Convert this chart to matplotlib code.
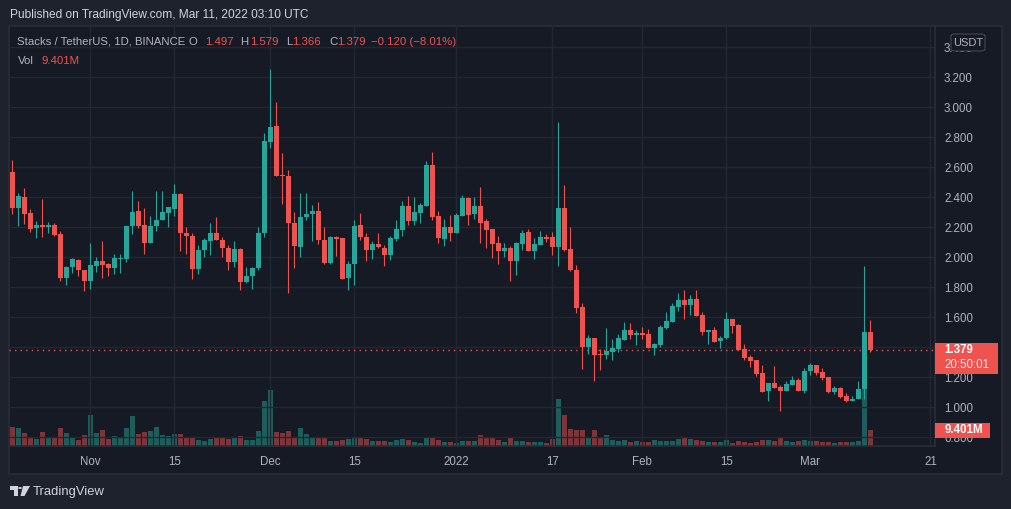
import matplotlib
matplotlib.use("Agg")
import matplotlib.pyplot as plt
import matplotlib.transforms as mtransforms
from matplotlib.patches import Rectangle, FancyBboxPatch, Polygon, Circle
import numpy as np

plt.rcParams["font.family"] = ["Liberation Sans", "DejaVu Sans"]

# -----------------------------------------------------------------------
#  STX/USDT daily candles, 19 Oct 2021 -> 11 Mar 2022 (index 0..143)
# -----------------------------------------------------------------------
opens = [
    2.569, 2.329, 2.402, 2.296, 2.191, 2.216, 2.198, 2.216, 2.156, 1.858,
    1.931, 1.982, 1.916, 1.838, 1.942, 1.976, 1.956, 1.929, 1.989, 1.989,
    2.204, 2.309, 2.216, 2.091, 2.204, 2.244, 2.296, 2.322, 2.422, 2.162,
    2.142, 1.918, 2.044, 2.109, 2.158, 2.116, 2.062, 1.964, 2.056, 1.831,
    1.871, 1.924, 2.158, 2.764, 2.876, 2.549, 2.542, 2.229, 2.064, 2.264,
    2.284, 2.309, 2.116, 1.958, 2.136, 2.129, 1.858, 1.951, 2.216, 2.136,
    2.044, 2.089, 2.062, 2.011, 2.122, 2.182, 2.342, 2.242, 2.296, 2.342,
    2.616, 2.276, 2.122, 2.202, 2.162, 2.276, 2.396, 2.289, 2.342, 2.242,
    2.189, 2.096, 2.042, 2.062, 1.976, 2.089, 2.169, 2.042, 2.082, 2.136,
    2.136, 2.069, 2.329, 2.056, 1.916, 1.669, 1.402, 1.462, 1.356, 1.349,
    1.369, 1.389, 1.449, 1.516, 1.482, 1.496, 1.489, 1.396, 1.416, 1.529,
    1.569, 1.669, 1.716, 1.682, 1.722, 1.616, 1.502, 1.516, 1.442, 1.462,
    1.589, 1.549, 1.389, 1.336, 1.316, 1.229, 1.109, 1.162, 1.136, 1.109,
    1.149, 1.182, 1.109, 1.242, 1.282, 1.236, 1.202, 1.102, 1.129, 1.076,
    1.042, 1.056, 1.118, 1.497,
]
highs = [
    2.649, 2.427, 2.462, 2.322, 2.240, 2.389, 2.236, 2.229, 2.171, 1.942,
    1.996, 1.989, 1.916, 2.096, 2.002, 2.109, 1.962, 2.022, 2.022, 2.209,
    2.442, 2.376, 2.329, 2.276, 2.442, 2.442, 2.336, 2.489, 2.429, 2.198,
    2.158, 2.082, 2.129, 2.224, 2.264, 2.131, 2.082, 2.104, 2.062, 1.931,
    1.931, 2.198, 2.829, 3.256, 3.036, 2.696, 2.582, 2.302, 2.429, 2.429,
    2.349, 2.369, 2.202, 2.142, 2.142, 2.129, 1.971, 2.249, 2.296, 2.162,
    2.109, 2.162, 2.082, 2.142, 2.249, 2.376, 2.409, 2.402, 2.362, 2.642,
    2.702, 2.309, 2.256, 2.282, 2.296, 2.416, 2.402, 2.402, 2.469, 2.256,
    2.189, 2.142, 2.096, 2.076, 2.102, 2.182, 2.189, 2.129, 2.176, 2.156,
    2.169, 2.902, 2.482, 2.202, 1.949, 1.696, 1.482, 1.462, 1.389, 1.529,
    1.456, 1.489, 1.569, 1.562, 1.516, 1.536, 1.522, 1.429, 1.549, 1.636,
    1.696, 1.762, 1.782, 1.749, 1.782, 1.636, 1.516, 1.536, 1.476, 1.636,
    1.589, 1.556, 1.422, 1.349, 1.316, 1.282, 1.162, 1.276, 1.149, 1.176,
    1.209, 1.196, 1.262, 1.296, 1.282, 1.262, 1.202, 1.142, 1.136, 1.096,
    1.076, 1.176, 1.942, 1.579,
]
lows = [
    2.289, 2.204, 2.222, 2.164, 2.124, 2.131, 2.158, 2.138, 1.838, 1.811,
    1.891, 1.871, 1.771, 1.789, 1.902, 1.862, 1.876, 1.889, 1.896, 1.969,
    2.151, 2.191, 2.018, 2.091, 2.171, 2.244, 2.198, 2.271, 2.038, 2.018,
    1.851, 1.884, 1.998, 2.011, 2.111, 1.998, 1.911, 1.931, 1.778, 1.824,
    1.784, 1.911, 2.131, 2.724, 2.538, 2.351, 1.758, 1.924, 1.998, 2.244,
    2.104, 2.084, 1.951, 1.951, 2.004, 1.851, 1.778, 1.811, 2.111, 1.971,
    1.984, 2.058, 1.938, 1.978, 2.109, 2.142, 2.216, 2.216, 2.229, 2.342,
    2.249, 2.096, 2.076, 2.109, 2.162, 2.276, 2.216, 2.256, 2.096, 2.062,
    1.996, 1.956, 2.002, 1.842, 1.882, 2.049, 2.042, 1.989, 2.082, 2.102,
    2.016, 1.942, 2.042, 1.909, 1.629, 1.256, 1.356, 1.176, 1.249, 1.322,
    1.316, 1.369, 1.449, 1.456, 1.416, 1.456, 1.396, 1.349, 1.402, 1.522,
    1.569, 1.642, 1.589, 1.616, 1.609, 1.482, 1.422, 1.436, 1.396, 1.456,
    1.496, 1.382, 1.316, 1.269, 1.209, 1.102, 1.042, 1.129, 0.976, 1.109,
    1.149, 1.109, 1.096, 1.216, 1.216, 1.182, 1.096, 1.089, 1.062, 1.036,
    1.042, 1.056, 1.056, 1.366,
]
closes = [
    2.324, 2.409, 2.284, 2.184, 2.216, 2.198, 2.216, 2.144, 1.858, 1.936,
    1.989, 1.911, 1.838, 1.949, 1.976, 1.949, 1.929, 1.996, 1.996, 2.209,
    2.302, 2.209, 2.091, 2.209, 2.249, 2.302, 2.336, 2.422, 2.158, 2.138,
    1.918, 2.049, 2.116, 2.158, 2.111, 2.058, 1.964, 2.056, 1.831, 1.876,
    1.929, 2.158, 2.776, 2.869, 2.538, 2.538, 2.224, 2.071, 2.269, 2.289,
    2.309, 2.111, 1.958, 2.136, 2.122, 1.851, 1.956, 2.209, 2.131, 2.044,
    2.089, 2.064, 2.011, 2.129, 2.189, 2.342, 2.242, 2.302, 2.349, 2.616,
    2.269, 2.129, 2.202, 2.162, 2.282, 2.396, 2.282, 2.342, 2.229, 2.182,
    2.089, 2.042, 2.062, 1.976, 2.096, 2.162, 2.042, 2.089, 2.136, 2.122,
    2.069, 2.329, 2.049, 1.916, 1.662, 1.402, 1.462, 1.349, 1.349, 1.376,
    1.396, 1.462, 1.516, 1.482, 1.496, 1.482, 1.396, 1.422, 1.536, 1.576,
    1.676, 1.716, 1.682, 1.722, 1.609, 1.502, 1.516, 1.436, 1.462, 1.589,
    1.542, 1.382, 1.329, 1.309, 1.222, 1.102, 1.162, 1.129, 1.109, 1.156,
    1.182, 1.109, 1.242, 1.282, 1.229, 1.196, 1.102, 1.129, 1.069, 1.042,
    1.056, 1.122, 1.497, 1.379,
]
# volume, millions of STX
volumes = [
    11.2, 10.6, 7.6, 4.7, 4.1, 8.2, 4.7, 4.7, 10.6, 7.6, 4.7, 3.5, 6.5,
    18.2, 7.6, 9.4, 4.1, 5.9, 4.7, 10.6, 17.6,
    7.1, 8.2, 8.8, 11.2, 6.5, 5.9, 7.1, 7.1, 4.7, 5.3, 3.5, 2.9, 4.1, 4.7,
    4.7, 4.1, 5.3, 5.9, 3.5, 3.5, 8.8,
    26.4, 32.9, 8.2, 7.6, 8.8, 4.7, 10.6, 7.1, 4.7, 4.7, 4.7, 2.9, 2.9,
    3.5, 4.1, 5.3, 5.3, 4.1, 2.9, 2.9, 2.9,
    2.4, 3.5, 4.1, 3.5, 2.4, 1.8, 5.3, 4.7, 3.5, 2.4, 2.4, 1.8, 2.9, 2.9,
    2.9, 6.5, 4.7, 5.3, 3.5, 2.4, 4.7,
    2.9, 2.9, 2.4, 2.4, 2.4, 1.8, 4.1, 27.6, 18.2, 10.0, 9.4, 9.4, 5.3,
    9.4, 5.3, 6.5, 3.5, 2.9, 3.5, 2.4,
    2.9, 2.4, 2.4, 3.5, 2.9, 2.9, 2.9, 4.1, 4.7, 4.1, 3.5, 2.9, 2.4, 2.4,
    2.4, 3.5, 1.8, 2.9, 2.4, 1.8, 2.4,
    3.5, 3.5, 2.9, 5.3, 2.9, 2.4, 2.9, 3.5, 2.9, 2.9, 2.4, 2.4, 1.8, 2.4,
    2.4, 2.4, 2.9, 40.0, 9.401,
]

time_tick_idx = [13, 27, 43, 57, 74, 90, 105, 119, 133, 153]
time_tick_labels = ["Nov", "15", "Dec", "15", "2022", "17", "Feb", "15", "Mar", "21"]
price_ticks = [0.8, 1.0, 1.2, 1.4, 1.6, 1.8, 2.0, 2.2, 2.4, 2.6, 2.8, 3.0, 3.2, 3.4]

# -----------------------------------------------------------------------
#  Colours / layout (pixel coordinates of the 1012x509 picture)
# -----------------------------------------------------------------------
UP = "#26a69a"
DOWN = "#ef5350"
UP_VOL = "#1d5d5b"
DOWN_VOL = "#7d3539"
OUTER_BG = "#1e222d"
PANE_BG = "#161a25"
GRID = "#232733"
BORDER = "#2a2e39"
TEXT = "#b2b5be"
LIGHT = "#d1d4dc"

W, H = 1012, 509


def fx(x):
    return x / W


def fy(y):
    return 1 - y / H


fig = plt.figure(figsize=(W / 100, H / 100), dpi=100, facecolor=OUTER_BG)

# frame of the chart (pane + both axes scales)
fig.patches.append(Rectangle((fx(9), fy(474)), fx(1002) - fx(9), fy(26) - fy(474),
                             transform=fig.transFigure, facecolor=PANE_BG,
                             edgecolor=BORDER, linewidth=1.2, zorder=-5))

pane_l, pane_r, pane_t, pane_b = 9, 935, 26, 446
ax = fig.add_axes([fx(pane_l), fy(pane_b), fx(pane_r) - fx(pane_l), fy(pane_t) - fy(pane_b)])
axv = ax.twinx()
ax.set_zorder(axv.get_zorder() + 1)
ax.patch.set_visible(False)
axv.patch.set_visible(False)

x = np.arange(len(closes))
o = np.array(opens)
c = np.array(closes)
is_up = c >= o
colors = np.where(is_up, UP, DOWN)

# volume (behind candles)
axv.bar(x, volumes, width=0.82, color=np.where(is_up, UP_VOL, DOWN_VOL), linewidth=0)
axv.set_ylim(0, 420 * volumes[-1] / 16)
axv.yaxis.set_visible(False)
for s in axv.spines.values():
    s.set_visible(False)

# candles
ax.vlines(x, lows, highs, colors=colors, linewidth=0.8, zorder=3)
body_h = np.maximum(np.abs(c - o), 0.006)
ax.bar(x, body_h, bottom=np.minimum(o, c), width=0.8, color=colors, linewidth=0, zorder=4)

ax.set_xlim(-0.55, 153.78)
ax.set_ylim(0.74, 3.54)

# grid
for xi in time_tick_idx:
    ax.axvline(xi, color=GRID, linewidth=1.0, zorder=0)
for p in price_ticks:
    ax.axhline(p, color=GRID, linewidth=1.0, zorder=0)

# last price line
ax.axhline(closes[-1], color=DOWN, linewidth=1.0, linestyle=(0, (1, 3)), zorder=2)

# axes
ax.yaxis.tick_right()
ax.set_yticks(price_ticks)
ax.set_yticklabels([f"{p:.3f}" for p in price_ticks])
ax.set_xticks(time_tick_idx)
ax.set_xticklabels(time_tick_labels)
ax.tick_params(axis="y", length=0, pad=6.5, labelsize=8.3, labelcolor=TEXT)
ax.tick_params(axis="x", length=0, pad=7, labelsize=8.3, labelcolor=TEXT)
for name, s in ax.spines.items():
    if name in ("right", "bottom"):
        s.set_color(BORDER)
        s.set_linewidth(1.2)
    else:
        s.set_visible(False)

# price label box for the last close
blend = mtransforms.blended_transform_factory(ax.transAxes, ax.transData)
ax.add_patch(Rectangle((1.0, closes[-1] - 24 / 150), 63 / 926, 31 / 150,
                       transform=blend, facecolor=DOWN, edgecolor="none",
                       clip_on=False, zorder=10))
ax.text(1.0105, closes[-1], f"{closes[-1]:.3f}", transform=blend, ha="left",
        va="center", color="white", fontsize=8.3, fontweight="bold", zorder=11, clip_on=False)
ax.text(1.0105, closes[-1] - 15 / 150, "20:50:01", transform=blend, ha="left",
        va="center", color="#fde3e3", fontsize=8.3, zorder=11, clip_on=False)

# volume label box
vblend = mtransforms.blended_transform_factory(ax.transAxes, axv.transData)
vol_per_px = volumes[-1] / 16
ax.add_patch(Rectangle((1.0, volumes[-1] - 7.5 * vol_per_px), 55 / 926, 15 * vol_per_px,
                       transform=vblend, facecolor=DOWN, edgecolor="none",
                       clip_on=False, zorder=10))
ax.text(1.0105, volumes[-1], f"{volumes[-1]:.3f}M", transform=vblend, ha="left",
        va="center", color="white", fontsize=8.3, fontweight="bold", zorder=11, clip_on=False)

# currency badge on the price scale
fig.patches.append(FancyBboxPatch((fx(951), fy(51)), fx(985) - fx(951), fy(34) - fy(51),
                                  boxstyle="round,pad=0,rounding_size=0.004",
                                  transform=fig.transFigure, facecolor=PANE_BG,
                                  edgecolor="#434651", linewidth=0.8, zorder=20))
fig.text(fx(968), fy(42.5), "USDT", ha="center", va="center", color=TEXT,
         fontsize=8, zorder=21)

# header texts
fig.text(fx(10), fy(15), "Published on TradingView.com, Mar 11, 2022 03:10 UTC",
         color=LIGHT, fontsize=8.6, va="center", ha="left")
legend_parts = [
    (17.3, "Stacks / TetherUS, 1D, BINANCE", TEXT),
    (189, "O", TEXT), (205.5, f"{opens[-1]:.3f}", DOWN),
    (240.5, "H", TEXT), (250, f"{highs[-1]:.3f}", DOWN),
    (286, "L", TEXT), (292.3, f"{lows[-1]:.3f}", DOWN),
    (329, "C", TEXT), (337.3, f"{closes[-1]:.3f}", DOWN),
    (371, "\u22120.120 (\u22128.01%)", DOWN),
]
for px, txt, col in legend_parts:
    fig.text(fx(px), fy(42), txt, color=col, fontsize=8.2, va="center", ha="left")
fig.text(fx(18.3), fy(61), "Vol", color=TEXT, fontsize=8.2, va="center", ha="left")
fig.text(fx(41.7), fy(61), f"{volumes[-1]:.3f}M", color=DOWN, fontsize=8.2,
         va="center", ha="left")

# TradingView logo + wordmark
logo = [
    Polygon([(fx(10), fy(486)), (fx(17.5), fy(486)), (fx(17.5), fy(496)),
             (fx(14), fy(496)), (fx(14), fy(489.5)), (fx(10), fy(489.5))], closed=True),
    Circle((fx(20), fy(488)), 1.9 / W),
    Polygon([(fx(23), fy(486)), (fx(30), fy(486)), (fx(24.5), fy(496)),
             (fx(20.5), fy(496))], closed=True),
]
for p in logo:
    p.set_transform(fig.transFigure)
    p.set_facecolor(LIGHT)
    p.set_edgecolor("none")
    fig.patches.append(p)
fig.text(fx(33), fy(491.5), "TradingView", color=LIGHT, fontsize=9.4,
         va="center", ha="left")

fig.savefig("out.png", dpi=100, facecolor=OUTER_BG)
